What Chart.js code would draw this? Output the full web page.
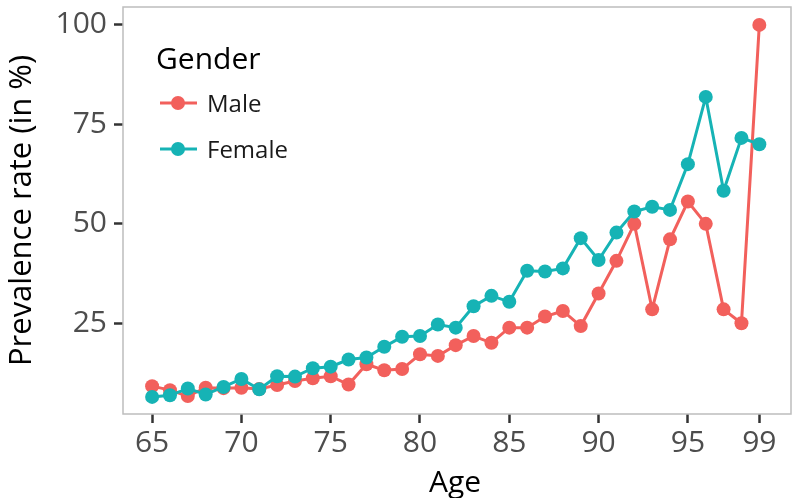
<!DOCTYPE html>
<html>
<head>
<meta charset="utf-8">
<script src="https://cdn.jsdelivr.net/npm/chart.js@4/dist/chart.umd.min.js"></script>
<style>
  html, body { margin: 0; padding: 0; background: #fff; }
  #wrap { width: 794px; height: 498px; }
</style>
</head>
<body>
<div id="wrap"><canvas id="myChart" width="794" height="498"></canvas></div>
<script>
    // ages on the x axis
    const ages = [65, 66, 67, 68, 69, 70, 71, 72, 73, 74, 75, 76, 77, 78, 79, 80, 81,
      82, 83, 84, 85, 86, 87, 88, 89, 90, 91, 92, 93, 94, 95, 96, 97, 98, 99];

    // prevalence rate in %
    const male = [9.2, 8.2, 6.7, 8.8, 8.7, 8.8, 8.5, 9.5, 10.5, 11.2, 11.7, 9.6, 14.7, 13.2, 13.5, 17.2, 16.8,
      19.5, 21.8, 20.1, 23.9, 23.9, 26.7, 28.1, 24.3, 32.5, 40.7, 50.0, 28.5, 46.1, 55.6, 50.0, 28.5, 25.0, 100];
    const female = [6.5, 6.9, 8.6, 7.1, 9.0, 11.0, 8.4, 11.7, 11.6, 13.7, 14.1, 15.9, 16.4, 19.1, 21.6, 21.8, 24.7,
      23.9, 29.3, 31.9, 30.4, 38.2, 38.0, 38.8, 46.4, 40.9, 47.8, 53.1, 54.3, 53.5, 65.0, 81.9, 58.3, 71.6, 70.0];

    const xTicks = [65, 70, 75, 80, 85, 90, 95, 99];
    const yTicks = [25, 50, 75, 100];

    const COLORS = {
      male: '#F2605C',
      female: '#16B3B5'
    };

    const FONT = "'Open Sans', 'Noto Sans', sans-serif";

    function points(vals) {
      let out = [];
      for (let i = 0; i < ages.length; i++) {
        out.push({x: ages[i], y: vals[i]});
      }
      return out;
    }

    const data = {
      datasets: [
        {
          label: 'Male',
          data: points(male),
          borderColor: COLORS.male,
          backgroundColor: COLORS.male,
          order: 1
        },
        {
          label: 'Female',
          data: points(female),
          borderColor: COLORS.female,
          backgroundColor: COLORS.female,
          order: 0
        }
      ]
    };

    // panel border + legend drawn inside the plot, ggplot style
    const panelBits = {
      id: 'panelBits',
      afterDraw(chart) {
        const ctx = chart.ctx;
        const a = chart.chartArea;
        ctx.save();
        ctx.strokeStyle = '#bdbdbd';
        ctx.lineWidth = 1.5;
        ctx.strokeRect(a.left, a.top, a.right - a.left + 4, a.bottom - a.top);

        ctx.fillStyle = '#000';
        ctx.textBaseline = 'alphabetic';
        ctx.textAlign = 'left';
        ctx.font = '30px ' + FONT;
        ctx.fillText('Gender', a.left + 33, a.top + 62);

        ctx.font = '24px ' + FONT;
        let sets = chart.data.datasets;
        for (let i = 0; i < sets.length; i++) {
          let y = a.top + 96 + i * 46;
          ctx.strokeStyle = sets[i].borderColor;
          ctx.lineWidth = 3;
          ctx.beginPath();
          ctx.moveTo(a.left + 37, y);
          ctx.lineTo(a.left + 74, y);
          ctx.stroke();
          ctx.fillStyle = sets[i].backgroundColor;
          ctx.beginPath();
          ctx.arc(a.left + 55, y, 7, 0, Math.PI * 2);
          ctx.fill();
          ctx.fillStyle = '#1a1a1a';
          ctx.fillText(sets[i].label, a.left + 84, y + 9);
        }
        ctx.restore();
      }
    };

    const config = {
      type: 'line',
      data: data,
      plugins: [panelBits],
      options: {
        responsive: false,
        animation: false,
        layout: {
          padding: {top: 7, right: 0, bottom: 0, left: 0}
        },
        elements: {
          line: {borderWidth: 3, tension: 0},
          point: {radius: 7, hoverRadius: 7, borderWidth: 0}
        },
        plugins: {
          legend: {display: false},
          tooltip: {enabled: false}
        },
        scales: {
          x: {
            type: 'linear',
            min: 63.37,
            max: 100.55,
            afterBuildTicks: function (scale) {
              scale.ticks = xTicks.map(v => ({value: v}));
            },
            afterFit: function (scale) {
              scale.height = 84;
              scale.paddingLeft = 0;
              scale.paddingRight = 0;
            },
            grid: {
              drawOnChartArea: false,
              drawTicks: true,
              tickLength: 9,
              tickWidth: 2.5,
              tickColor: '#333333'
            },
            border: {display: false},
            ticks: {
              autoSkip: false,
              maxRotation: 0,
              padding: 5,
              color: '#4d4d4d',
              font: {family: FONT, size: 30, lineHeight: 1}
            },
            title: {
              display: true,
              text: 'Age',
              color: '#000',
              padding: {top: 0, bottom: 0},
              font: {family: FONT, size: 30, lineHeight: 1}
            }
          },
          y: {
            type: 'linear',
            min: 2.2,
            max: 104.5,
            afterBuildTicks: function (scale) {
              scale.ticks = yTicks.map(v => ({value: v}));
            },
            afterFit: function (scale) {
              scale.width = 123;
              scale.paddingTop = 0;
              scale.paddingBottom = 0;
            },
            grid: {
              drawOnChartArea: false,
              drawTicks: true,
              tickLength: 9,
              tickWidth: 2.5,
              tickColor: '#333333'
            },
            border: {display: false},
            ticks: {
              padding: 7,
              color: '#4d4d4d',
              font: {family: FONT, size: 30, lineHeight: 1}
            },
            title: {
              display: true,
              text: 'Prevalence rate (in %)',
              color: '#000',
              padding: {top: 7, bottom: 0},
              font: {family: FONT, size: 31, lineHeight: 1}
            }
          }
        }
      }
    };

    const myChart = new Chart(document.getElementById('myChart'), config);
</script>
</body>
</html>
